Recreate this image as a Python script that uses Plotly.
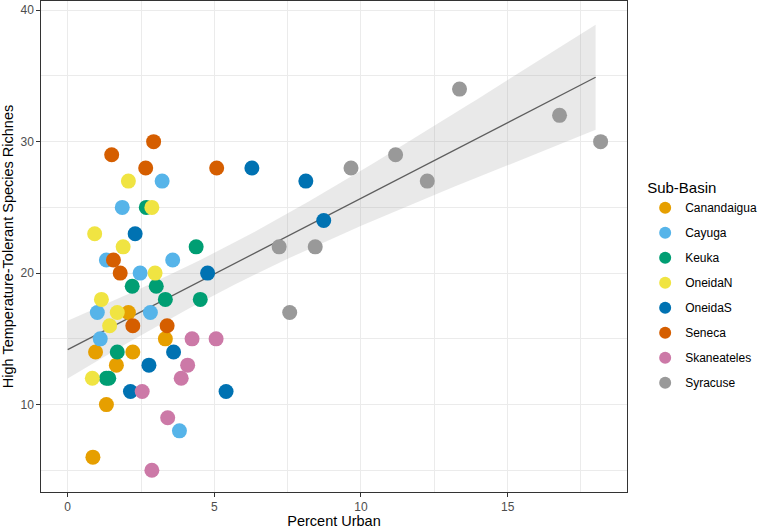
import numpy as np
import plotly.graph_objects as go

# ---- data ----
sub_basins = ["Canandaigua", "Cayuga", "Keuka", "OneidaN", "OneidaS",
              "Seneca", "Skaneateles", "Syracuse"]
colors = ["#E69F00", "#56B4E9", "#009E73", "#F0E442", "#0072B2",
          "#D55E00", "#CC79A7", "#999999"]

canandaigua_x = [2.07, 0.95, 2.22, 1.66, 1.32, 0.86, 3.33]
canandaigua_y = [17, 14, 14, 13, 10, 6, 15]
cayuga_x = [1.01, 1.11, 2.82, 1.86, 3.22, 1.32, 2.47, 3.58, 3.81]
cayuga_y = [17, 15, 17, 25, 27, 21, 20, 21, 8]
keuka_x = [1.69, 1.32, 1.40, 2.68, 2.20, 3.02, 3.33, 4.52, 4.38]
keuka_y = [14, 12, 12, 25, 19, 19, 18, 18, 22]
oneidan_x = [1.15, 1.69, 1.43, 0.84, 2.07, 2.87, 0.92, 1.89, 2.98]
oneidan_y = [18, 17, 16, 12, 27, 25, 23, 22, 20]
oneidas_x = [2.77, 2.14, 3.61, 5.40, 2.30, 4.77, 6.28, 8.12, 8.73]
oneidas_y = [13, 11, 14, 11, 23, 20, 28, 27, 24]
seneca_x = [2.22, 3.39, 1.50, 2.66, 2.93, 5.08, 1.56, 1.79]
seneca_y = [16, 16, 29, 28, 30, 28, 21, 20]
skaneateles_x = [2.54, 2.87, 4.24, 5.06, 4.09, 3.87, 3.41]
skaneateles_y = [11, 5, 15, 15, 13, 12, 9]
syracuse_x = [7.21, 8.44, 7.57, 9.66, 11.18, 13.36, 12.26, 16.77, 18.17]
syracuse_y = [22, 22, 17, 28, 29, 34, 27, 32, 30]

xs = [canandaigua_x, cayuga_x, keuka_x, oneidan_x, oneidas_x, seneca_x,
      skaneateles_x, syracuse_x]
ys = [canandaigua_y, cayuga_y, keuka_y, oneidan_y, oneidas_y, seneca_y,
      skaneateles_y, syracuse_y]

# fitted line and its 95% band
fit_x = [0.0, 5.0, 18.0]
fit_y = [14.18, 19.94, 34.90]
band_halfwidth = [2.2, 1.6, 4.0]

# ---- smooth curve: linear line, band of the usual sqrt(quadratic) form ----
line_coef = np.polyfit(fit_x[::2], fit_y[::2], 1)
hw2_coef = np.polyfit(fit_x, np.square(band_halfwidth), 2)
gx = np.linspace(fit_x[0], fit_x[-1], 80)
gy = np.polyval(line_coef, gx)
hw = np.sqrt(np.polyval(hw2_coef, gx))

FONT = "Liberation Sans, Arial, sans-serif"
fig = go.Figure()
fig.add_trace(go.Scatter(
    x=np.concatenate([gx, gx[::-1]]),
    y=np.concatenate([gy + hw, (gy - hw)[::-1]]),
    fill="toself", fillcolor="rgba(153,153,153,0.22)",
    line=dict(width=0), mode="lines", hoverinfo="skip", showlegend=False))
fig.add_trace(go.Scatter(x=gx, y=gy, mode="lines",
                         line=dict(color="#5E5E5E", width=1.3),
                         showlegend=False))

for name, col, x, y in zip(sub_basins, colors, xs, ys):
    fig.add_trace(go.Scatter(
        x=x, y=y, mode="markers", name=name, legendgroup=name,
        marker=dict(color=col, size=15, line=dict(width=0))))

axis_common = dict(
    showgrid=True, gridcolor="#EBEBEB", gridwidth=1.07,
    zeroline=False, showline=True, linecolor="#333333", linewidth=1.07,
    mirror=True, ticks="outside", ticklen=3.7, tickwidth=1.07,
    tickcolor="#333333", tickfont=dict(family=FONT, size=12, color="#4D4D4D"),
)

fig.update_layout(
    width=763, height=529,
    margin=dict(l=41, r=134, t=1, b=37),
    plot_bgcolor="white", paper_bgcolor="white",
    font=dict(family=FONT, color="black"),
    xaxis=dict(range=[-0.91, 19.07], tick0=0, dtick=5,
               minor=dict(tick0=0, dtick=2.5, showgrid=True,
                          gridcolor="#EBEBEB", gridwidth=0.53),
               title=dict(text="Percent Urban",
                          font=dict(family=FONT, size=14.5), standoff=2),
               **axis_common),
    yaxis=dict(range=[3.35, 40.7], tick0=0, dtick=10,
               minor=dict(tick0=0, dtick=5, showgrid=True,
                          gridcolor="#EBEBEB", gridwidth=0.53),
               title=dict(text="High Temperature-Tolerant Species Richnes",
                          font=dict(family=FONT, size=14.5), standoff=4),
               **axis_common),
    legend=dict(x=1.031, y=0.42, xanchor="left", yanchor="middle",
                title=dict(text="Sub-Basin", font=dict(family=FONT, size=15)),
                font=dict(family=FONT, size=12, color="black"),
                tracegroupgap=6, itemsizing="constant"),
)

fig.write_html("out.html")
